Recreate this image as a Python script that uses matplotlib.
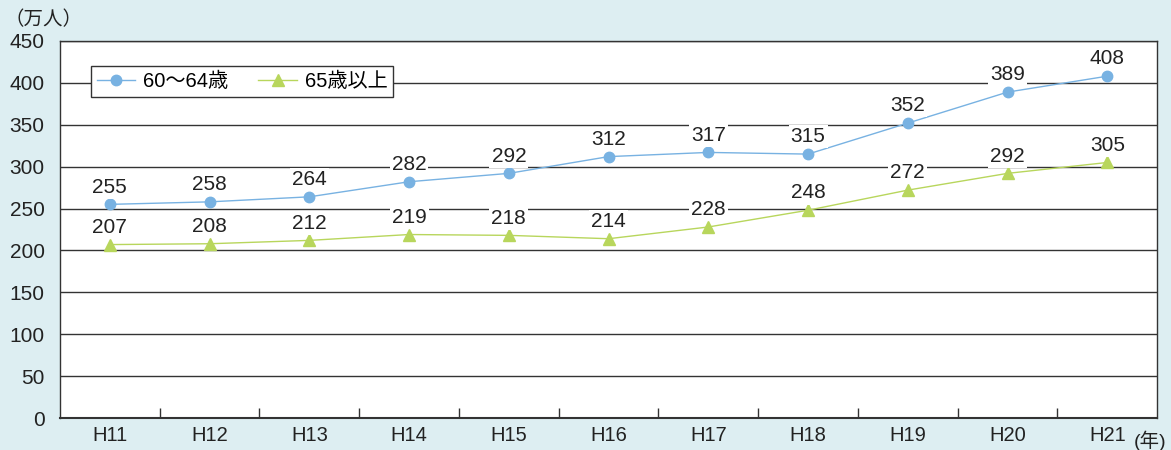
import matplotlib.pyplot as plt

years = ["H11", "H12", "H13", "H14", "H15", "H16", "H17", "H18", "H19", "H20", "H21"]
age_60_64 = [255, 258, 264, 282, 292, 312, 317, 315, 352, 389, 408]
age_65_over = [207, 208, 212, 219, 218, 214, 228, 248, 272, 292, 305]

plt.rcParams['font.family'] = ['Liberation Sans', 'Noto Sans CJK JP']

bg = '#ddeef2'
blue = '#78b2e2'
green = '#b8d65c'
dark = '#333333'
txt = '#222222'

fig = plt.figure(figsize=(11.71, 4.5), dpi=100, facecolor=bg)
ax = fig.add_axes([0.0512, 0.0711, 0.937, 0.8378])
ax.set_facecolor('white')

x = list(range(len(years)))
ax.plot(x, age_60_64, color=blue, lw=1, marker='o', ms=7.5, mec=blue, label='60〜64歳', zorder=3)
ax.plot(x, age_65_over, color=green, lw=1, marker='^', ms=8.5, mec=green, label='65歳以上', zorder=3)

box = dict(facecolor='white', edgecolor='none', pad=1.5)
for series in (age_60_64, age_65_over):
    for i, v in enumerate(series):
        ax.annotate(str(v), (i, v), xytext=(0, 8.5), textcoords='offset points', ha='center',
                    va='baseline', fontsize=15, color=txt, bbox=box, zorder=4)

ax.set_xlim(-0.5, len(years) - 0.5)
ax.set_ylim(0, 450)
ax.set_yticks(range(0, 451, 50))
ax.yaxis.grid(True, color=dark, lw=1)
ax.set_axisbelow(True)

ax.set_xticks(x)
ax.set_xticklabels(years)
ax.set_xticks([i + 0.5 for i in range(len(years) - 1)], minor=True)
ax.tick_params(axis='x', which='major', length=0, pad=6, labelsize=14.5, colors=txt)
ax.tick_params(axis='x', which='minor', direction='in', length=7, width=1, color=dark)
ax.tick_params(axis='y', length=0, pad=11, labelsize=15, labelcolor=txt)
for s in ax.spines.values():
    s.set_color(dark)
    s.set_linewidth(1)
ax.spines['bottom'].set_linewidth(1.5)

leg = ax.legend(loc='upper left', bbox_to_anchor=(0.028, 0.934), borderaxespad=0, ncol=2,
                fontsize=14.5, frameon=True, fancybox=False, edgecolor=dark, handlelength=1.9,
                handletextpad=0.4, columnspacing=1.5, borderpad=0.3)
leg.get_frame().set_linewidth(1)
leg.get_frame().set_alpha(1)

fig.text(0.004, 0.955, '（万人）', fontsize=14, color=txt, va='center')
fig.text(0.968, 0.02, '(年)', fontsize=14, color=txt, va='center')

fig.savefig('out.png', dpi=100, facecolor=bg)
